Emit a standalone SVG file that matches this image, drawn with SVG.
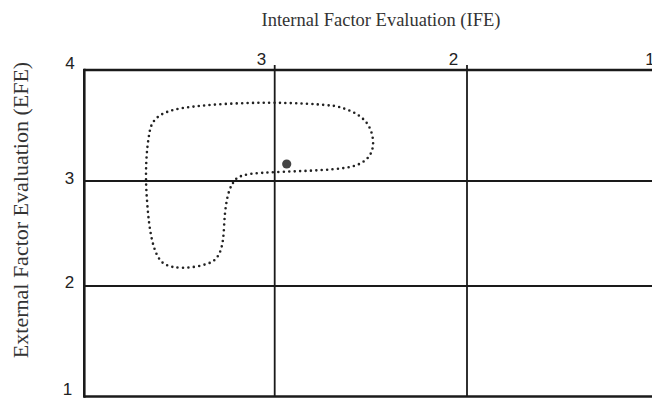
<svg xmlns="http://www.w3.org/2000/svg" width="652" height="401" viewBox="0 0 652 401">
<style>
.title{font-family:"Liberation Serif","Times New Roman",serif;fill:#333;}
.num{font-family:"Liberation Sans",Arial,sans-serif;font-size:17px;fill:#222;text-anchor:middle;}
.thick{stroke:#1a1a1a;stroke-width:2.6;fill:none;}
.thin{stroke:#1a1a1a;stroke-width:1.8;fill:none;}
.dots{stroke:#222;stroke-width:2.6;stroke-linecap:round;stroke-dasharray:0 5.4;fill:none;}
</style>
<rect width="652" height="401" fill="#fff"/>
<g id="titles">
<text class="title" x="381" y="26" font-size="18.5" text-anchor="middle">Internal Factor Evaluation (IFE)</text>
<text class="title" x="0" y="0" font-size="22" text-anchor="middle" transform="translate(28,210) rotate(-90)">External Factor Evaluation (EFE)</text>
</g>
<g id="grid">
<line class="thick" x1="84" y1="70" x2="652" y2="70"/>
<line class="thick" x1="84" y1="396.5" x2="652" y2="396.5"/>
<line class="thick" x1="84.3" y1="68.7" x2="84.3" y2="397.8"/>
<line class="thin" x1="84" y1="181" x2="652" y2="181"/>
<line class="thin" x1="84" y1="286" x2="652" y2="286"/>
<line class="thin" x1="274.7" y1="65" x2="274.7" y2="397"/>
<line class="thin" x1="467" y1="65" x2="467" y2="397"/>
</g>
<g id="labels">
<text class="num" x="70" y="69">4</text>
<text class="num" x="261.5" y="65">3</text>
<text class="num" x="453.5" y="65">2</text>
<text class="num" x="650" y="65">1</text>
<text class="num" x="69.5" y="184">3</text>
<text class="num" x="69.5" y="288">2</text>
<text class="num" x="67.5" y="395">1</text>
</g>
<g id="region">
<path class="dots" d="M 233,183 C 236,176 245,174 260,173 C 290,171 330,171 350,167 C 368,163 374,153 373,140 C 371,122 360,112 335,106 C 300,102 240,101 190,107 C 165,110 153,116 150,130 C 146,150 145,175 147,200 C 149,230 153,255 163,263 C 172,270 195,269 212,262 C 221,256 223,245 224,228 C 225,205 228,190 233,183 Z"/>
</g>
<g id="point">
<circle cx="286.7" cy="164" r="4.6" fill="#444"/>
</g>
</svg>
